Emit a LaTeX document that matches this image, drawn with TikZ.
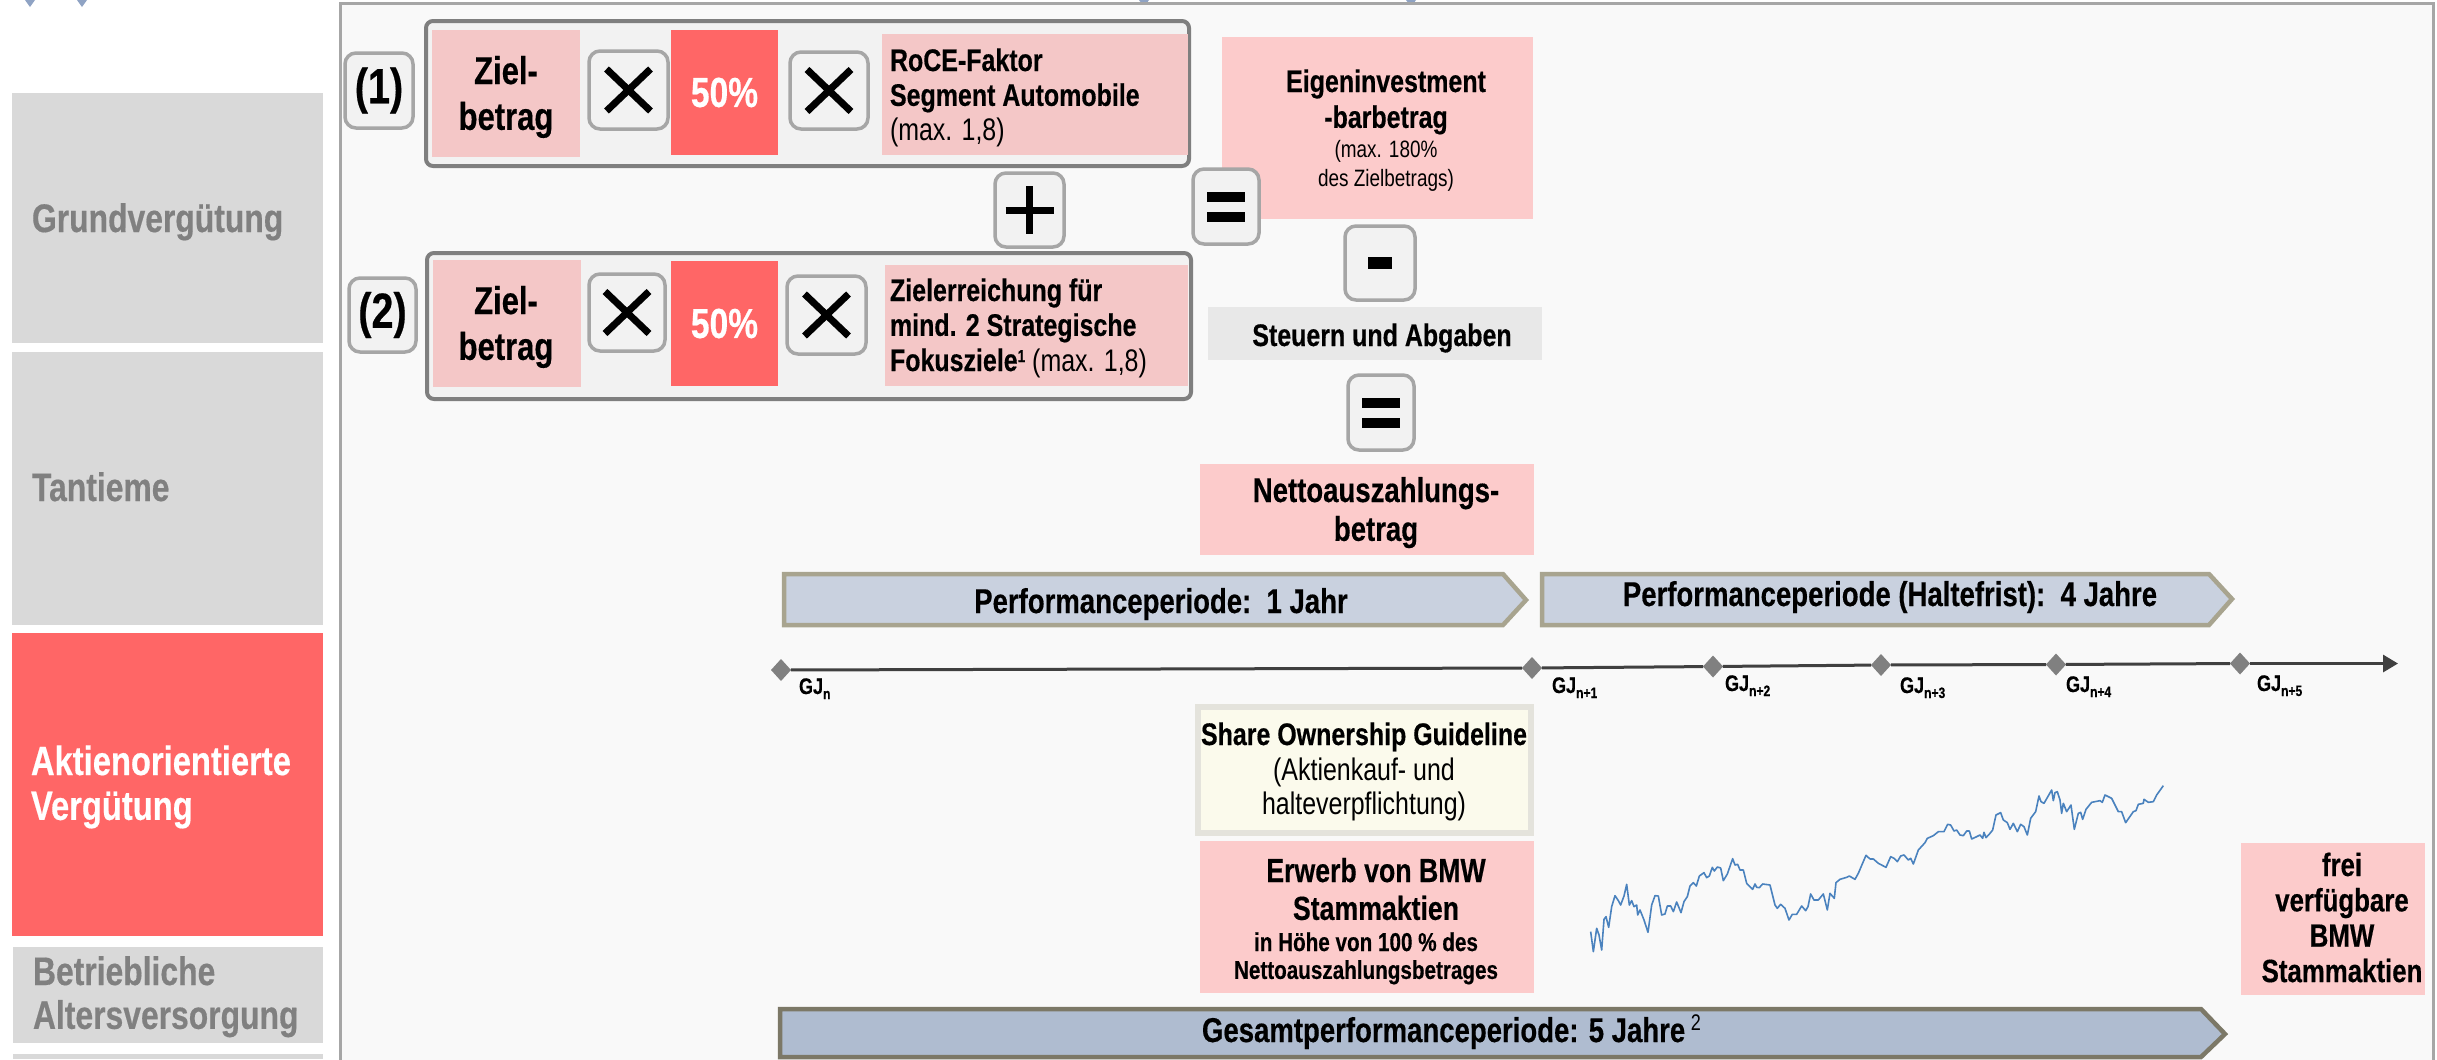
\documentclass[tikz,border=0pt]{standalone}
\usepackage{fontspec}
\setmainfont[FakeStretch=0.80,Scale=1.08,BoldFeatures={FakeBold=0.4}]{Liberation Sans}
\usetikzlibrary{arrows.meta,calc,shapes.geometric}
\definecolor{pinkA}{HTML}{F4C7C7}
\definecolor{pinkB}{HTML}{FCCBCB}
\definecolor{redA}{HTML}{FF6666}
\definecolor{greyA}{HTML}{D9D9D9}
\definecolor{greyT}{HTML}{808080}
\definecolor{panelF}{HTML}{F9F9F9}
\definecolor{panelL}{HTML}{A6A6A6}
\definecolor{groupF}{HTML}{F2F2F2}
\definecolor{groupL}{HTML}{7F7F7F}
\definecolor{arrF}{HTML}{C9D1DF}
\definecolor{arrL}{HTML}{A8A48F}
\definecolor{arrFb}{HTML}{AFBCD0}
\definecolor{arrLb}{HTML}{7C7867}
\definecolor{stockC}{HTML}{4A82BE}
\definecolor{markC}{HTML}{8FA3C4}
\definecolor{creamF}{HTML}{FBFAEC}
\definecolor{creamL}{HTML}{E4E3DC}
\definecolor{steuerF}{HTML}{E8E8E8}
\newcommand{\fs}[2]{\fontsize{#1}{#2}\selectfont}
\newcommand{\cbl}[3]{\fs{#1}{#2}\begin{tabular}[t]{@{}c@{}}#3\end{tabular}}
\newcommand{\lbl}[3]{\fs{#1}{#2}\begin{tabular}[t]{@{}l@{}}#3\end{tabular}}
\newcommand{\bx}[7]{\pgfmathsetmacro\cxx{(#2+#4)/2}\pgfmathsetmacro\cyy{(#3+#5)/2}\pgfmathsetmacro\ww{#4-#2}\pgfmathsetmacro\hh{#5-#3}\node[#6,minimum width=\ww bp,minimum height=\hh bp] (#1) at (\cxx,\cyy) {#7};}
\tikzset{
  flat/.style={rectangle,inner sep=0pt,outer sep=0pt},
  side/.style={flat,fill=greyA},
  sidered/.style={flat,fill=redA},
  pinkbox/.style={flat,fill=pinkA},
  pinklight/.style={flat,fill=pinkB},
  redbox/.style={flat,fill=redA,text=white,font=\bfseries\fs{39}{40}},
  groupbox/.style={flat,draw=groupL,fill=groupF,line width=4bp,rounded corners=7bp},
  opbox/.style={flat,draw=panelL,fill=groupF,line width=3.5bp,rounded corners=11bp},
  opline/.style={black,line width=7bp},
  txt/.style={inner sep=0pt,outer sep=0pt,anchor=base},
  ltxt/.style={inner sep=0pt,outer sep=0pt,anchor=base west},
  sidet/.style={ltxt,text=greyT,font=\bfseries},
  mile/.style={diamond,fill=greyT,draw=none,inner sep=0pt,outer sep=0pt,minimum width=20bp,minimum height=22bp},
  tline/.style={black!75,line width=3bp},
  gj/.style={ltxt,font=\bfseries\fs{21}{24}},
  stock/.style={stockC,line width=1.6bp,line join=round},
}
\newcommand{\sbs}[1]{\raisebox{-5bp}{\fs{14}{16}#1}}
\begin{document}
\begin{tikzpicture}[x=1bp,y=-1bp]
\useasboundingbox (0,0) rectangle (2437,1059);
\fill[white] (0,0) rectangle (2437,1059);
% top fragments
\foreach \mx in {30,82,1144,1411}{\fill[markC] (\mx-5,0) -- (\mx+5,0) -- (\mx,7) -- cycle;}
% side column
\bx{sa}{12}{93}{323}{343}{side}{}
\bx{sb}{12}{352}{323}{625}{side}{}
\bx{sc}{12}{633}{323}{936}{sidered}{}
\bx{sd}{13}{947}{323}{1043}{side}{}
\fill[greyA] (13,1054) rectangle (323,1059);
\node[sidet] (ta) at (32,232) {\fs{37}{44}Grundvergütung};
\node[sidet] (tb) at (32,501) {\fs{37}{44}Tantieme};
\node[ltxt,text=white,font=\bfseries] (tc) at (31,775) {\lbl{38}{45}{Aktienorientierte\\Vergütung}};
\node[sidet] (td) at (33,985) {\lbl{37}{44}{Betriebliche\\Altersversorgung}};
% panel
\draw[panelL,fill=panelF,line width=3bp] (340,1075) -- (340,3) -- (2433,3) -- (2433,1075);
% groups
\bx{g1}{426}{21}{1189}{166}{groupbox}{}
\bx{g2}{427}{253}{1191}{399}{groupbox}{}
% row 1
\bx{z1}{432}{30}{580}{157}{pinkbox}{}
\node[txt,font=\bfseries] (z1t) at (506,84) {\cbl{36}{46}{Ziel-\\betrag}};
\bx{x1a}{589}{51}{668}{129}{opbox}{}
\bx{p1}{671}{30}{778}{155}{redbox}{50\%}
\bx{x1b}{790}{52}{868}{129}{opbox}{}
\bx{r1}{882}{34}{1188}{155}{pinkbox}{}
\node[ltxt,font=\bfseries] (r1t) at (890,71) {\lbl{29}{35}{RoCE-Faktor\\Segment Automobile}};
\node[ltxt] (r1m) at (890,140) {\fs{29}{34}(max. 1,8)};
\bx{n1}{345}{53}{413}{128}{opbox}{}
\node[flat,font=\bfseries\fs{46}{48}] (n1t) at (n1) {(1)};
% plus
\bx{plus}{995}{173}{1064}{247}{opbox}{}
% row 2
\bx{n2}{349}{278}{416}{352}{opbox}{}
\node[flat,font=\bfseries\fs{46}{48}] (n2t) at (n2) {(2)};
\bx{z2}{433}{260}{581}{387}{pinkbox}{}
\node[txt,font=\bfseries] (z2t) at (506,314) {\cbl{36}{46}{Ziel-\\betrag}};
\bx{x2a}{589}{274}{665}{351}{opbox}{}
\bx{p2}{671}{261}{778}{386}{redbox}{50\%}
\bx{x2b}{787}{276}{866}{354}{opbox}{}
\bx{r2}{885}{265}{1188}{386}{pinkbox}{}
\node[ltxt,font=\bfseries] (r2t) at (890,301) {\lbl{29}{35}{Zielerreichung für\\mind. 2 Strategische}};
\node[ltxt] (r2m) at (890,371) {\fs{29}{34}\textbf{Fokusziele}\raisebox{9bp}{\fs{16}{18}\textbf{1}} (max. 1,8)};
% operator glyphs
\foreach \b in {x1a,x1b,x2a,x2b}{
  \draw[opline] ($(\b)+(-22,-21)$) -- ($(\b)+(22,21)$);
  \draw[opline] ($(\b)+(-22,21)$) -- ($(\b)+(22,-21)$);
}
\draw[opline] ($(plus)+(-24,0)$) -- ($(plus)+(24,0)$);
\draw[opline] ($(plus)+(0,-24)$) -- ($(plus)+(0,24)$);
% right column
\bx{ei}{1222}{37}{1533}{219}{pinklight}{}
\bx{eqa}{1193}{169}{1259}{244}{opbox}{}
\node[txt,font=\bfseries] (eit) at (1386,92) {\cbl{29}{36}{Eigeninvestment\\-barbetrag}};
\node[txt] (eim) at (1386,157) {\cbl{22}{30}{(max. 180\%\\des Zielbetrags)}};
\fill[black] ($(eqa)+(-19,-15)$) rectangle ($(eqa)+(19,-5)$);
\fill[black] ($(eqa)+(-19,5)$) rectangle ($(eqa)+(19,15)$);
\bx{minus}{1345}{226}{1415}{300}{opbox}{}
\fill[black] ($(minus)+(-12,-6)$) rectangle ($(minus)+(12,6)$);
\bx{st}{1208}{307}{1542}{360}{flat,fill=steuerF}{}
\node[txt,font=\bfseries] (stt) at (1382,346) {\fs{29}{34}Steuern und Abgaben};
\bx{eqb}{1348}{375}{1414}{450}{opbox}{}
\fill[black] ($(eqb)+(-19,-15)$) rectangle ($(eqb)+(19,-5)$);
\fill[black] ($(eqb)+(-19,5)$) rectangle ($(eqb)+(19,15)$);
\bx{ne}{1200}{464}{1534}{555}{pinklight}{}
\node[txt,font=\bfseries] (net) at (1376,502) {\cbl{32}{39}{Nettoauszahlungs-\\betrag}};
% period arrows
\draw[arrL,fill=arrF,line width=4.5bp] (784,574) -- (1503,574) -- (1526,600) -- (1503,625) -- (784,625) -- cycle;
\node[txt,font=\bfseries] (pa) at (1161,613) {\fs{32}{36}Performanceperiode:\ \ 1 Jahr};
\draw[arrL,fill=arrF,line width=4.5bp] (1542,574) -- (2209,574) -- (2232,599) -- (2209,625) -- (1542,625) -- cycle;
\node[txt,font=\bfseries] (pb) at (1890,606) {\fs{32}{36}Performanceperiode (Haltefrist):\ \ 4 Jahre};
\draw[arrLb,fill=arrFb,line width=4.5bp] (780,1009) -- (2201,1009) -- (2225,1034) -- (2201,1057) -- (780,1057) -- cycle;
\node[ltxt] (pc) at (1202,1042) {\fs{32}{36}\textbf{Gesamtperformanceperiode: 5 Jahre}\,\raisebox{12bp}{\fs{21}{22}2}};
% timeline
\coordinate (tend) at (2398,663.5);
\node[mile] (m0) at (781,670) {};
\node[mile] (m1) at (1532,668) {};
\node[mile] (m2) at (1713,666.5) {};
\node[mile] (m3) at (1881,665) {};
\node[mile] (m4) at (2056,664.5) {};
\node[mile] (m5) at (2240,663.5) {};
\draw[tline] (m0) -- (m1);
\draw[tline] (m1) -- (m2);
\draw[tline] (m2) -- (m3);
\draw[tline] (m3) -- (m4);
\draw[tline] (m4) -- (m5);
\draw[tline,-{Triangle[length=15bp,width=17bp]}] (m5) -- (tend);
\node[gj] (g0) at (799,694) {GJ\sbs{n}};
\node[gj] (g1t) at (1552,693) {GJ\sbs{n+1}};
\node[gj] (g2t) at (1725,691) {GJ\sbs{n+2}};
\node[gj] (g3t) at (1900,693) {GJ\sbs{n+3}};
\node[gj] (g4t) at (2066,692) {GJ\sbs{n+4}};
\node[gj] (g5t) at (2257,691) {GJ\sbs{n+5}};
% guideline
\bx{so}{1198}{707}{1531}{833}{flat,draw=creamL,fill=creamF,line width=6bp}{}
\node[txt,font=\bfseries] (sot) at (1364,745) {\fs{29}{34}Share Ownership Guideline};
\node[txt] (som) at (1364,780) {\cbl{29}{35}{(Aktienkauf- und\\halteverpflichtung)}};
\bx{er}{1200}{841}{1534}{993}{pinklight}{}
\node[txt,font=\bfseries] (ert) at (1376,882) {\cbl{31}{38}{Erwerb von BMW\\Stammaktien}};
\node[txt,font=\bfseries] (erm) at (1366,951) {\cbl{24}{28}{in Höhe von 100 \% des\\Nettoauszahlungsbetrages}};
\bx{fr}{2241}{843}{2425}{995}{pinklight}{}
\node[txt,font=\bfseries] (frt) at (2342,876) {\cbl{30}{35.5}{frei\\verfügbare\\BMW\\Stammaktien}};
% share price
\begin{scope}[shift={(1580,770)},x=0.3333bp,y=-0.3333bp]
\draw[stock] plot coordinates {(32,485)(40,545)(50,475)(57,495)(65,540)(72,448)(78,440)(86,472)(95,410)(105,377)(115,392)(122,405)(132,378)(140,343)(148,405)(155,392)(162,410)(170,405)(173,435)(180,420)(192,450)(204,487)(215,405)(225,377)(235,378)(245,435)(255,432)(262,408)(272,408)(280,425)(290,396)(303,428)(312,395)(322,380)(330,348)(340,338)(349,348)(358,318)(372,308)(380,323)(388,318)(397,292)(403,303)(412,291)(422,294)(430,332)(442,312)(458,266)(465,285)(473,283)(480,300)(490,300)(500,340)(512,352)(518,358)(525,342)(530,352)(538,353)(548,342)(570,345)(585,405)(592,415)(602,403)(615,415)(627,450)(637,433)(650,433)(665,408)(677,422)(684,410)(692,372)(702,390)(715,390)(730,372)(742,420)(750,370)(763,385)(768,338)(780,328)(800,322)(808,318)(825,328)(835,310)(858,256)(870,267)};
\end{scope}
\begin{scope}[shift={(1870,770)},x=0.3333bp,y=-0.3333bp]
\draw[stock] plot coordinates {(0,267)(10,267)(25,280)(48,292)(62,260)(72,265)(82,275)(92,258)(102,255)(115,270)(122,265)(130,282)(145,240)(165,218)(172,205)(190,197)(205,185)(222,185)(233,163)(242,165)(252,183)(260,180)(270,195)(280,197)(290,183)(298,183)(305,207)(320,200)(330,195)(338,205)(342,187)(348,203)(360,190)(368,180)(378,135)(392,128)(400,150)(412,158)(420,178)(430,160)(442,185)(452,163)(462,170)(472,195)(482,145)(497,125)(507,78)(513,95)(522,100)(545,60)(550,92)(555,68)(562,65)(570,90)(575,130)(580,100)(590,125)(603,105)(613,178)(625,130)(632,127)(638,148)(648,118)(665,97)(690,92)(697,97)(705,75)(725,85)(745,125)(755,125)(767,158)(790,125)(798,122)(805,103)(820,100)(822,88)(835,97)(850,95)(860,75)(880,47)};
\end{scope}
\end{tikzpicture}
\end{document}
